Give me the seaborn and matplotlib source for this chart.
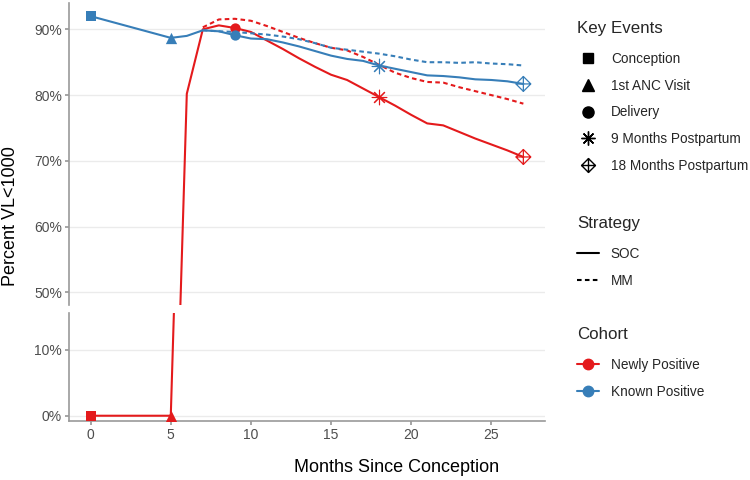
import numpy as np
import pandas as pd
import matplotlib
matplotlib.use("Agg")
import matplotlib.pyplot as plt
from matplotlib.lines import Line2D
from matplotlib.path import Path
from matplotlib.ticker import FuncFormatter
import seaborn as sns

sns.set_theme(style="white")
plt.rcParams["font.family"] = ["Liberation Sans", "DejaVu Sans"]

# ── DATA ─────────────────────────────────────────────────────
soc_months = [0, 5, 6, 7, 8, 9, 10, 11, 12, 13, 14, 15, 16, 17, 18,
              19, 20, 21, 22, 23, 24, 25, 26, 27]
mm_months = [7, 8, 9, 10, 11, 12, 13, 14, 15, 16, 17, 18,
             19, 20, 21, 22, 23, 24, 25, 26, 27]

newly_soc = [0.0, 0.0, 80.2, 90.0, 90.6, 90.2, 89.6, 88.3, 87.0, 85.6, 84.3,
             83.1, 82.3, 81.0, 79.7, 78.4, 77.0, 75.7, 75.4, 74.4, 73.4,
             72.5, 71.6, 70.6]
known_soc = [92.0, 88.7, 89.0, 89.85, 89.7, 89.1, 88.6, 88.5, 88.0, 87.4,
             86.7, 86.0, 85.5, 85.2, 84.5, 84.0, 83.5, 83.0, 82.9, 82.7,
             82.4, 82.3, 82.1, 81.7]
newly_mm = [90.3, 91.5, 91.6, 91.3, 90.5, 89.6, 88.7, 87.9, 87.2, 86.8,
            85.8, 84.6, 83.4, 82.6, 82.0, 81.9, 81.2, 80.6, 80.0, 79.4, 78.7]
known_mm = [89.85, 89.7, 89.6, 89.4, 89.2, 88.9, 88.5, 87.9, 87.2, 86.9,
            86.6, 86.3, 85.9, 85.4, 85.0, 85.0, 84.9, 85.0, 84.8, 84.7, 84.5]

event_names = ["Conception", "1st ANC Visit", "Delivery",
               "9 Months Postpartum", "18 Months Postpartum"]
event_months = [0, 5, 9, 18, 27]

cohorts = ["Newly Positive", "Known Positive"]
strategies = ["SOC", "MM"]
palette = {"Newly Positive": "#E41A1C", "Known Positive": "#377EB8"}

# long table for seaborn
rows = []
for cohort, soc_vals, mm_vals in [("Newly Positive", newly_soc, newly_mm),
                                  ("Known Positive", known_soc, known_mm)]:
    for m, v in zip(soc_months, soc_vals):
        rows.append((m, v, cohort, "SOC"))
    for m, v in zip(mm_months, mm_vals):
        rows.append((m, v, cohort, "MM"))
df = pd.DataFrame(rows, columns=["month", "pct", "Cohort", "Strategy"])

# diamond with a plus inside (ggplot shape 9)
diamond_plus = Path(
    [(0, 1), (1, 0), (0, -1), (-1, 0), (0, 1),
     (0, 1), (0, -1), (-1, 0), (1, 0)],
    [Path.MOVETO, Path.LINETO, Path.LINETO, Path.LINETO, Path.CLOSEPOLY,
     Path.MOVETO, Path.LINETO, Path.MOVETO, Path.LINETO],
)
# marker, scatter size, legend size, filled?
event_markers = {
    "Conception": ("s", 45, 7.0, True),
    "1st ANC Visit": ("^", 66, 9.0, True),
    "Delivery": ("o", 55, 8.0, True),
    "9 Months Postpartum": ((8, 2, 0), 110, 10.0, False),
    "18 Months Postpartum": (diamond_plus, 115, 10.0, False),
}

# ── FIGURE ───────────────────────────────────────────────────
W, H = 750, 480
fig = plt.figure(figsize=(7.5, 4.8), dpi=100)


def px_axes(x0, y0, x1, y1):
    return fig.add_axes([x0 / W, 1 - y1 / H, (x1 - x0) / W, (y1 - y0) / H])


ax_top = px_axes(69, 3, 545, 305)
ax_bot = px_axes(69, 313, 545, 421)

AXIS_GRAY = "#9a9a9a"
TEXT_GRAY = "#4D4D4D"

for ax, ylim, yt in [(ax_top, (48.1, 94.0), [50, 60, 70, 80, 90]),
                     (ax_bot, (-0.8, 15.6), [0, 10])]:
    sns.lineplot(
        data=df, x="month", y="pct", hue="Cohort", style="Strategy",
        hue_order=cohorts, style_order=strategies, palette=palette,
        dashes={"SOC": "", "MM": (2.2, 1.6)}, linewidth=1.5,
        estimator=None, errorbar=None, legend=False, ax=ax,
    )
    for name, m in zip(event_names, event_months):
        mk, sz, _, filled = event_markers[name]
        for cohort, soc_vals in [("Newly Positive", newly_soc),
                                 ("Known Positive", known_soc)]:
            v = soc_vals[soc_months.index(m)]
            c = palette[cohort]
            if filled:
                ax.scatter([m], [v], marker=mk, s=sz, color=c,
                           linewidths=0, zorder=5)
            elif name == "9 Months Postpartum":
                ax.scatter([m], [v], marker=mk, s=sz, color=c,
                           linewidths=0.8, zorder=5)
            else:
                ax.scatter([m], [v], marker=mk, s=sz, facecolors="none",
                           edgecolors=c, linewidths=0.9, zorder=5)
    ax.set_xlim(-1.35, 28.35)
    ax.set_ylim(*ylim)
    ax.set_yticks(yt)
    ax.yaxis.set_major_formatter(FuncFormatter(lambda v, p: f"{v:.0f}%"))
    ax.grid(axis="y", color="#EBEBEB", linewidth=1.0)
    ax.grid(axis="x", visible=False)
    ax.set_axisbelow(True)
    for s in ["top", "right", "bottom"]:
        ax.spines[s].set_visible(False)
    ax.spines["left"].set_color(AXIS_GRAY)
    ax.spines["left"].set_linewidth(1.2)
    ax.tick_params(axis="y", left=True, length=3, color=AXIS_GRAY,
                   labelsize=10, labelcolor=TEXT_GRAY, pad=2)
    ax.set_xlabel("")
    ax.set_ylabel("")

ax_top.set_xticks([])
ax_bot.spines["bottom"].set_visible(True)
ax_bot.spines["bottom"].set_color(AXIS_GRAY)
ax_bot.spines["bottom"].set_linewidth(1.2)
ax_bot.set_xticks([0, 5, 10, 15, 20, 25])
ax_bot.tick_params(axis="x", bottom=True, length=3, color=AXIS_GRAY,
                   labelsize=10, labelcolor=TEXT_GRAY, pad=2)

fig.text(11 / W, 1 - 216 / H, "Percent VL<1000", rotation=90,
         ha="center", va="center", fontsize=13, color="black")
fig.text(397 / W, 1 - 467 / H, "Months Since Conception",
         ha="center", va="center", fontsize=13, color="black")

# ── LEGENDS ──────────────────────────────────────────────────
ev_handles = []
for name in event_names:
    mk, _, lsz, filled = event_markers[name]
    ev_handles.append(Line2D([], [], linestyle="none", marker=mk,
                             markersize=lsz,
                             markerfacecolor="black" if filled else "none",
                             markeredgecolor="black", markeredgewidth=1.0))
st_handles = [Line2D([], [], color="black", linewidth=1.5),
              Line2D([], [], color="black", linewidth=1.5,
                     dashes=(2.2, 1.6))]
co_handles = [Line2D([], [], color=palette[c], linewidth=1.5, marker="o",
                     markersize=7.5) for c in cohorts]

leg_kw = dict(loc="upper left", frameon=False, fontsize=9.8,
              title_fontsize=12.2, alignment="left", handlelength=1.6,
              handletextpad=0.85, labelspacing=0.94, borderaxespad=0)
for handles, labels, title, ytop in [
        (ev_handles, event_names, "Key Events", 16),
        (st_handles, strategies, "Strategy", 211),
        (co_handles, cohorts, "Cohort", 322)]:
    leg = fig.legend(handles, labels, title=title,
                     bbox_to_anchor=(572 / W, 1 - ytop / H), **leg_kw)
    leg._legend_box.sep = 11

fig.savefig("out.png", dpi=100)
